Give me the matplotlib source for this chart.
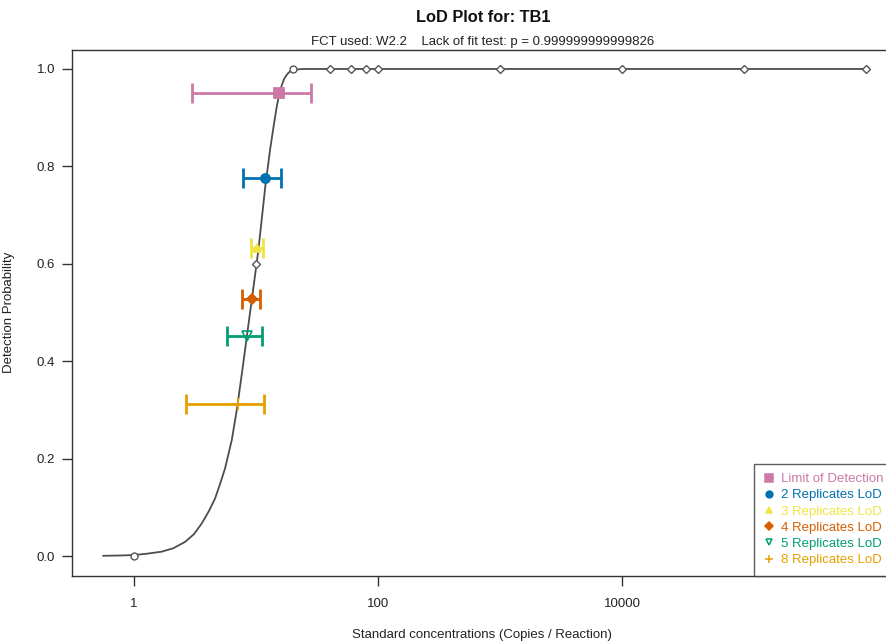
import matplotlib
matplotlib.use("Agg")
import matplotlib.pyplot as plt
from matplotlib.lines import Line2D
import numpy as np

plt.rcParams['font.family'] = ['Liberation Sans', 'DejaVu Sans']

# ---- data ----
obs_conc = [1, 10, 20, 40, 60, 80, 100, 1000, 10000, 100000, 1000000]
obs_prob = [0.0, 0.6, 1.0, 1.0, 1.0, 1.0, 1.0, 1.0, 1.0, 1.0, 1.0]

curve_conc = [0.56, 0.75, 1.0, 1.3, 1.69, 2.1, 2.62, 3.1, 3.59, 4.1, 4.61, 5.1, 5.57, 6.32, 6.95,
              7.7, 8.39, 9.22, 10.44, 11.91, 13.03, 13.87, 14.7, 15.53, 16.3, 17.0, 17.7, 18.4,
              19.0, 19.7, 21.0, 22.5, 25.0, 1000000]
curve_prob = [0.0005, 0.001, 0.002, 0.005, 0.009, 0.016, 0.029, 0.045, 0.067, 0.092, 0.118, 0.150,
              0.180, 0.238, 0.300, 0.380, 0.450, 0.526, 0.628, 0.760, 0.835, 0.880, 0.920, 0.951,
              0.968, 0.980, 0.987, 0.992, 0.995, 0.997, 0.9985, 0.9995, 1.0, 1.0]

lod_labels = ["Limit of Detection", "2 Replicates LoD", "3 Replicates LoD",
              "4 Replicates LoD", "5 Replicates LoD", "8 Replicates LoD"]
lod_prob = [0.95, 0.776, 0.632, 0.527, 0.451, 0.312]
lod_conc = [15.4, 11.9, 10.1, 9.27, 8.49, 7.16]
lod_low = [2.99, 7.87, 9.16, 7.63, 5.82, 2.67]
lod_high = [28.2, 15.9, 11.35, 10.8, 11.1, 11.5]

xticks = [1, 100, 10000]
xticklabels = ["1", "100", "10000"]
yticks = [0.0, 0.2, 0.4, 0.6, 0.8, 1.0]

# ---- styles ----
colors = ["#CC79A7", "#0072B2", "#F0E442", "#D55E00", "#009E73", "#E69F00"]
markers = ["s", "o", "^", "D", "v", "+"]
msizes = [7, 6.5, 6, 5, 6.5, 8]
mfill = [True, True, True, True, False, True]
obs_markers = ["o", "D", "o", "D", "D", "D", "D", "D", "D", "D", "D"]

W, H = 887, 644
fig = plt.figure(figsize=(W / 100, H / 100), dpi=100)
L, R, T, B = 72, 897, 49.5, 575.5
ax = fig.add_axes([L / W, (H - B) / H, (R - L) / W, (B - T) / H])
ax.set_xscale("log")
ax.set_xlim(10 ** -0.508, 10 ** 6.25)
ax.set_ylim(-0.04, 1.04)

ax.plot(curve_conc, curve_prob, color="#4d4d4d", lw=1.3, zorder=2,
        solid_joinstyle="round")
for xc, yp, mk in zip(obs_conc, obs_prob, obs_markers):
    ax.plot([xc], [yp], marker=mk, ms=5 if mk == "o" else 4.2, mfc="white",
            mec="#555555", mew=1.0, ls="none", zorder=3)

for i in range(len(lod_labels)):
    xerr = [[lod_conc[i] - lod_low[i]], [lod_high[i] - lod_conc[i]]]
    ax.errorbar([lod_conc[i]], [lod_prob[i]], xerr=xerr, fmt="none",
                ecolor=colors[i], elinewidth=2.0, capsize=7.2, capthick=2.0, zorder=4)
    ax.plot([lod_conc[i]], [lod_prob[i]], marker=markers[i], ms=msizes[i],
            mfc=colors[i] if mfill[i] else "none", mec=colors[i], mew=1.3 if mfill[i] else 1.2,
            ls="none", zorder=5)

ax.set_xticks(xticks)
ax.set_xticklabels(xticklabels)
ax.xaxis.set_minor_locator(matplotlib.ticker.NullLocator())
ax.set_yticks(yticks)
ax.set_yticklabels([f"{v:.1f}" for v in yticks])
ax.tick_params(axis="both", direction="out", length=7, width=1.0, color="#333333",
               labelsize=9.5, labelcolor="#222222")
ax.tick_params(axis="x", pad=9)
ax.tick_params(axis="y", pad=5)
for s in ax.spines.values():
    s.set_color("#333333")
    s.set_linewidth(1.0)

ax.set_ylabel("Detection Probability", fontsize=9.5, color="#222222")
ax.yaxis.set_label_coords((15 - L) / (R - L), 0.5)
fig.text(482 / W, 1 - 635 / H, "Standard concentrations (Copies / Reaction)",
         ha="center", va="center", fontsize=9.5, color="#222222")

fig.text(483 / W, 1 - 18 / H, "LoD Plot for: TB1", ha="center", va="center",
         fontsize=11.8, fontweight="bold", color="#111111")
fig.text(483 / W, 1 - 42 / H, "FCT used: W2.2    Lack of fit test: p = 0.999999999999826",
         ha="center", va="center", fontsize=9.5, color="#222222")

handles = []
for i in range(len(lod_labels)):
    handles.append(Line2D([], [], marker=markers[i], ls="none", ms=msizes[i] * 0.75,
                          mfc=colors[i] if mfill[i] else "none", mec=colors[i], mew=1.1))
leg = ax.legend(handles, lod_labels, loc="lower left",
                bbox_to_anchor=((754 - L) / (R - L), 0.0), borderaxespad=0,
                fontsize=9.5, labelcolor=colors, frameon=True, fancybox=False,
                edgecolor="#333333", borderpad=0.7, handlelength=0.9,
                handletextpad=0.45, labelspacing=0.3)
leg.get_frame().set_linewidth(1.0)

fig.savefig("out.png", dpi=100)
